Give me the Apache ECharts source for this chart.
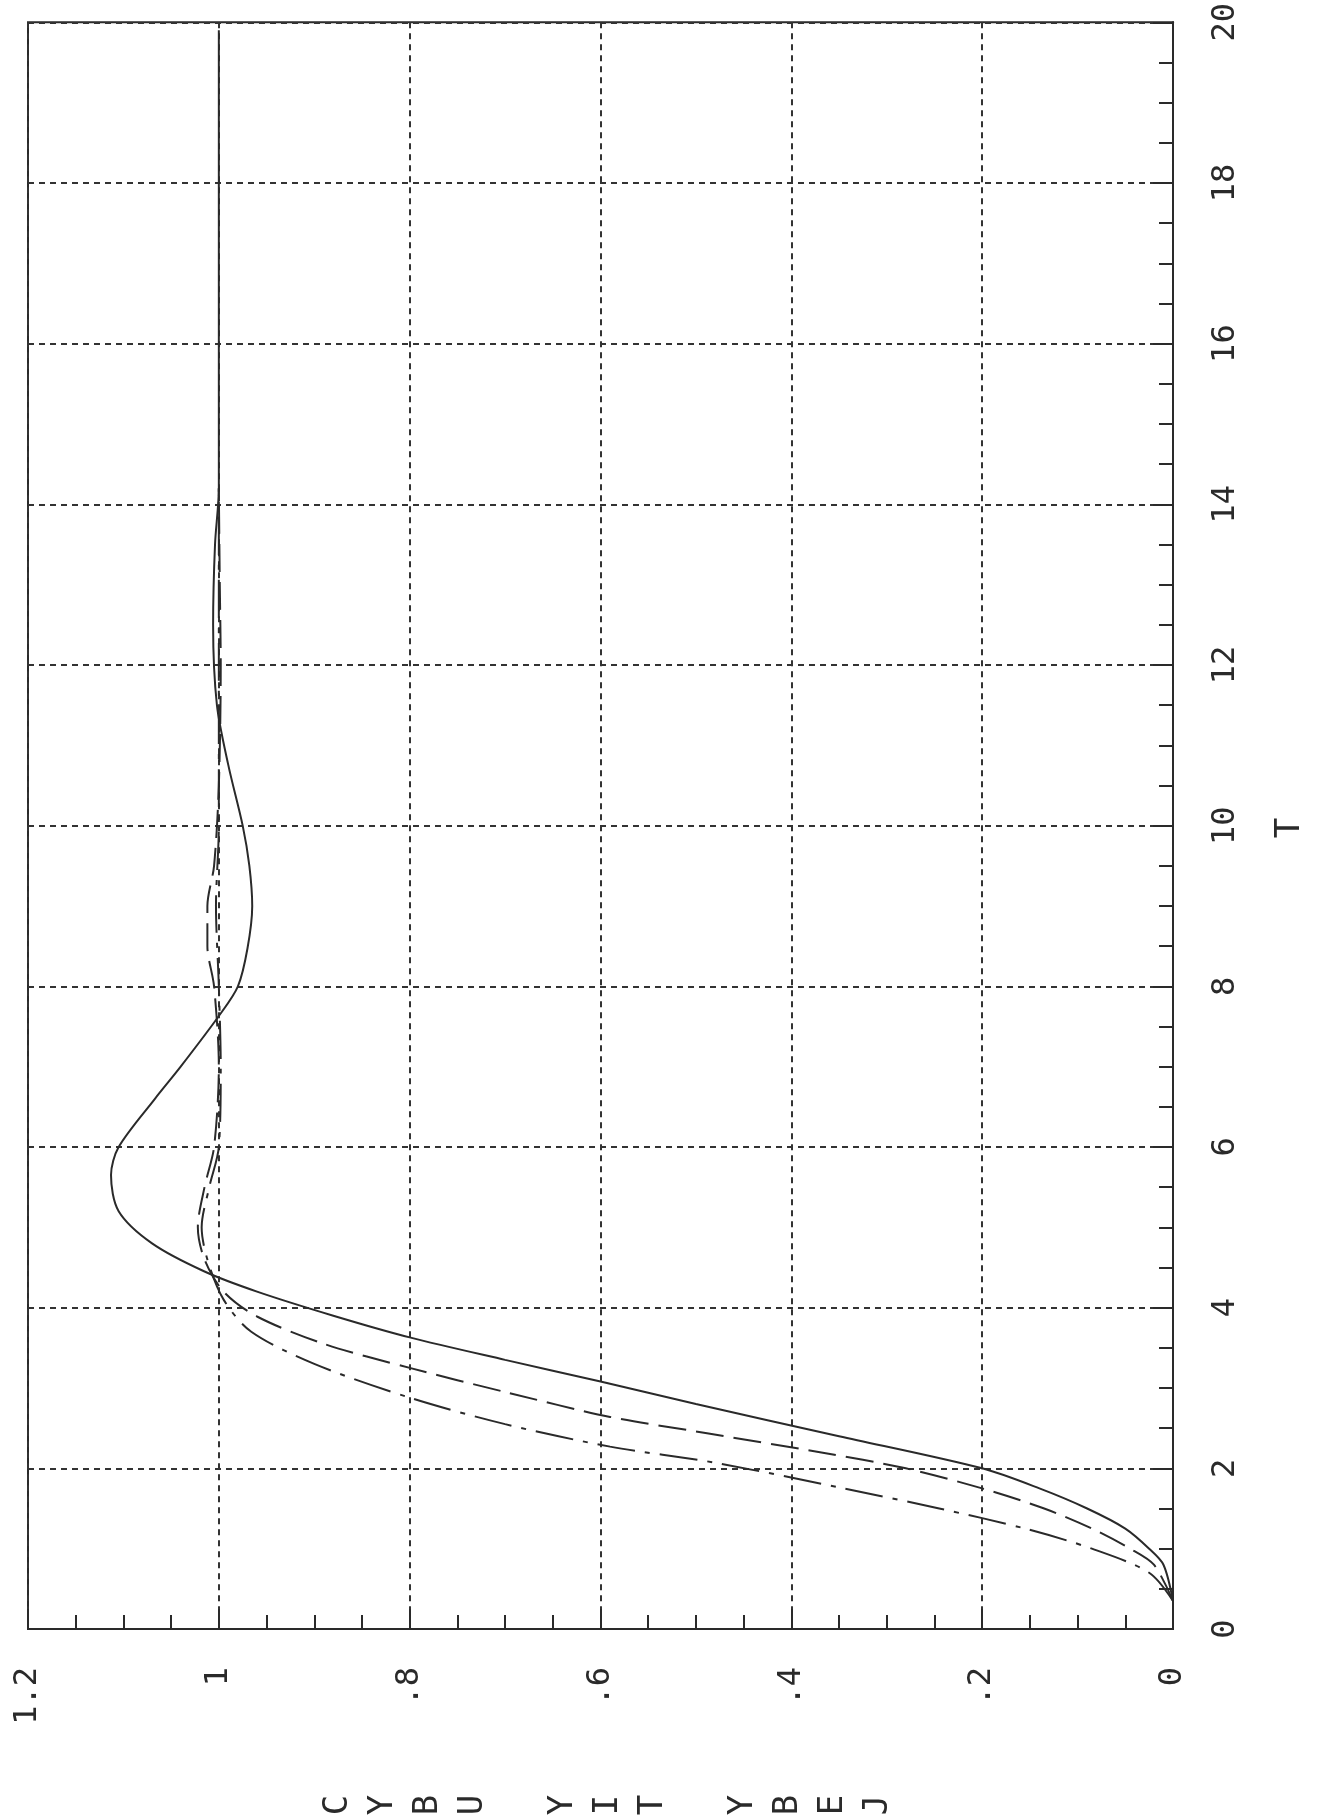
<!DOCTYPE html>
<html>
<head>
<meta charset="utf-8">
<script src="https://cdn.jsdelivr.net/npm/echarts@6/dist/echarts.min.js"></script>
<style>
html,body{margin:0;padding:0;background:#fff;}
#chart{width:1317px;height:1818px;}
</style>
</head>
<body>
<div id="chart"></div>
<script>
// Time values (T) and response values
const solidT = [0.35, 0.8, 1.0, 1.25, 1.5, 1.75, 2.0, 2.4, 2.8, 3.08, 3.35, 3.63, 3.9, 4.2, 4.45, 4.8, 5.2, 5.65, 6.0, 6.6, 7.0, 7.63, 8.0, 8.47, 9.0, 9.5, 10.0, 10.75, 11.5, 12.5, 13.5, 14.2, 16.0, 18.0, 19.9];
const solidV = [0.0, 0.01, 0.025, 0.05, 0.09, 0.14, 0.2, 0.35, 0.5, 0.6, 0.7, 0.8, 0.88, 0.96, 1.015, 1.07, 1.105, 1.113, 1.105, 1.067, 1.04, 1.0, 0.98, 0.97, 0.965, 0.968, 0.975, 0.99, 1.002, 1.006, 1.004, 1.0, 1.0, 1.0, 1.0];

const dashT = [0.35, 0.8, 1.0, 1.25, 1.5, 1.75, 2.0, 2.2, 2.44, 2.64, 2.95, 3.25, 3.55, 3.89, 4.2, 4.6, 5.0, 5.5, 6.0, 7.0, 8.0, 8.5, 9.0, 9.5, 10.5, 12.0, 13.0, 14.2];
const dashV = [0.0, 0.02, 0.045, 0.085, 0.135, 0.2, 0.28, 0.37, 0.49, 0.59, 0.7, 0.8, 0.89, 0.96, 0.995, 1.015, 1.022, 1.015, 1.005, 1.0, 1.005, 1.012, 1.012, 1.005, 1.0, 0.998, 0.999, 1.0];

const dotT = [0.35, 0.7, 1.0, 1.25, 1.5, 1.75, 2.07, 2.27, 2.55, 2.88, 3.3, 3.7, 4.1, 4.6, 5.0, 5.5, 6.0, 7.0, 8.0, 9.0, 10.0, 12.0, 14.2];
const dotV = [0.0, 0.025, 0.085, 0.155, 0.245, 0.345, 0.48, 0.59, 0.7, 0.8, 0.9, 0.966, 0.995, 1.012, 1.018, 1.01, 1.0, 0.998, 1.0, 1.003, 1.0, 1.0, 1.0];

const valueTicks = ['0', '.2', '.4', '.6', '.8', '1', '1.2'];
const timeTicks = ['0', '2', '4', '6', '8', '10', '12', '14', '16', '18', '20'];
const timeName = 'T';
const valueName = 'C\nY\nB\nU\n\nY\nI\nT\n\nY\nB\nE\nJ';

const zip = (t, v) => t.map((x, i) => [v[i], x]);
const FONT = 'DejaVu Sans Mono';
const INK = '#2a2a2a';

const chart = echarts.init(document.getElementById('chart'), null, {renderer: 'canvas'});
chart.setOption({
  animation: false,
  backgroundColor: '#fff',
  grid: {left: 28, right: 144, top: 21, bottom: 189, show: true, borderColor: INK, borderWidth: 2, backgroundColor: 'transparent'},
  xAxis: {
    type: 'value', min: 0, max: 1.2, interval: 0.2, inverse: true, position: 'bottom',
    axisLine: {show: true, lineStyle: {color: INK, width: 2}},
    axisTick: {show: true, inside: true, length: 20, lineStyle: {color: INK, width: 2}},
    minorTick: {show: true, splitNumber: 4, length: 14, lineStyle: {color: INK, width: 2}},
    splitLine: {show: true, lineStyle: {color: '#333', width: 2, type: [6, 5]}},
    axisLabel: {rotate: 90, margin: 38, fontFamily: FONT, fontSize: 32, color: INK,
      formatter: v => valueTicks[Math.round(v / 0.2)]}
  },
  yAxis: {
    type: 'value', min: 0, max: 20, interval: 2, position: 'right',
    axisLine: {show: true, lineStyle: {color: INK, width: 2}},
    axisTick: {show: true, inside: true, length: 20, lineStyle: {color: INK, width: 2}},
    minorTick: {show: true, splitNumber: 4, length: 14, lineStyle: {color: INK, width: 2}},
    splitLine: {show: true, lineStyle: {color: '#333', width: 2, type: [6, 5]}},
    axisLabel: {rotate: 90, margin: 37, fontFamily: FONT, fontSize: 32, color: INK,
      formatter: v => timeTicks[Math.round(v / 2)]}
  },
  graphic: [
    {type: 'text', x: 1290, y: 828, rotation: Math.PI / 2,
     style: {text: timeName, font: '34px "DejaVu Sans Mono"', fill: INK, textAlign: 'center', textVerticalAlign: 'middle'}},
    {type: 'text', x: 608, y: 1805, rotation: Math.PI / 2,
     style: {text: valueName, font: '34px "DejaVu Sans Mono"', lineHeight: 45, fill: INK, textAlign: 'center', textVerticalAlign: 'middle'}}
  ],
  series: [
    {type: 'line', data: zip(solidT, solidV), showSymbol: false, smooth: 0.3,
     lineStyle: {color: INK, width: 2, type: 'solid'}},
    {type: 'line', data: zip(dashT, dashV), showSymbol: false, smooth: 0.3,
     lineStyle: {color: INK, width: 2, type: [28, 10]}},
    {type: 'line', data: zip(dotT, dotV), showSymbol: false, smooth: 0.3,
     lineStyle: {color: INK, width: 2, type: [38, 10, 5, 10]}}
  ]
});
</script>
</body>
</html>
